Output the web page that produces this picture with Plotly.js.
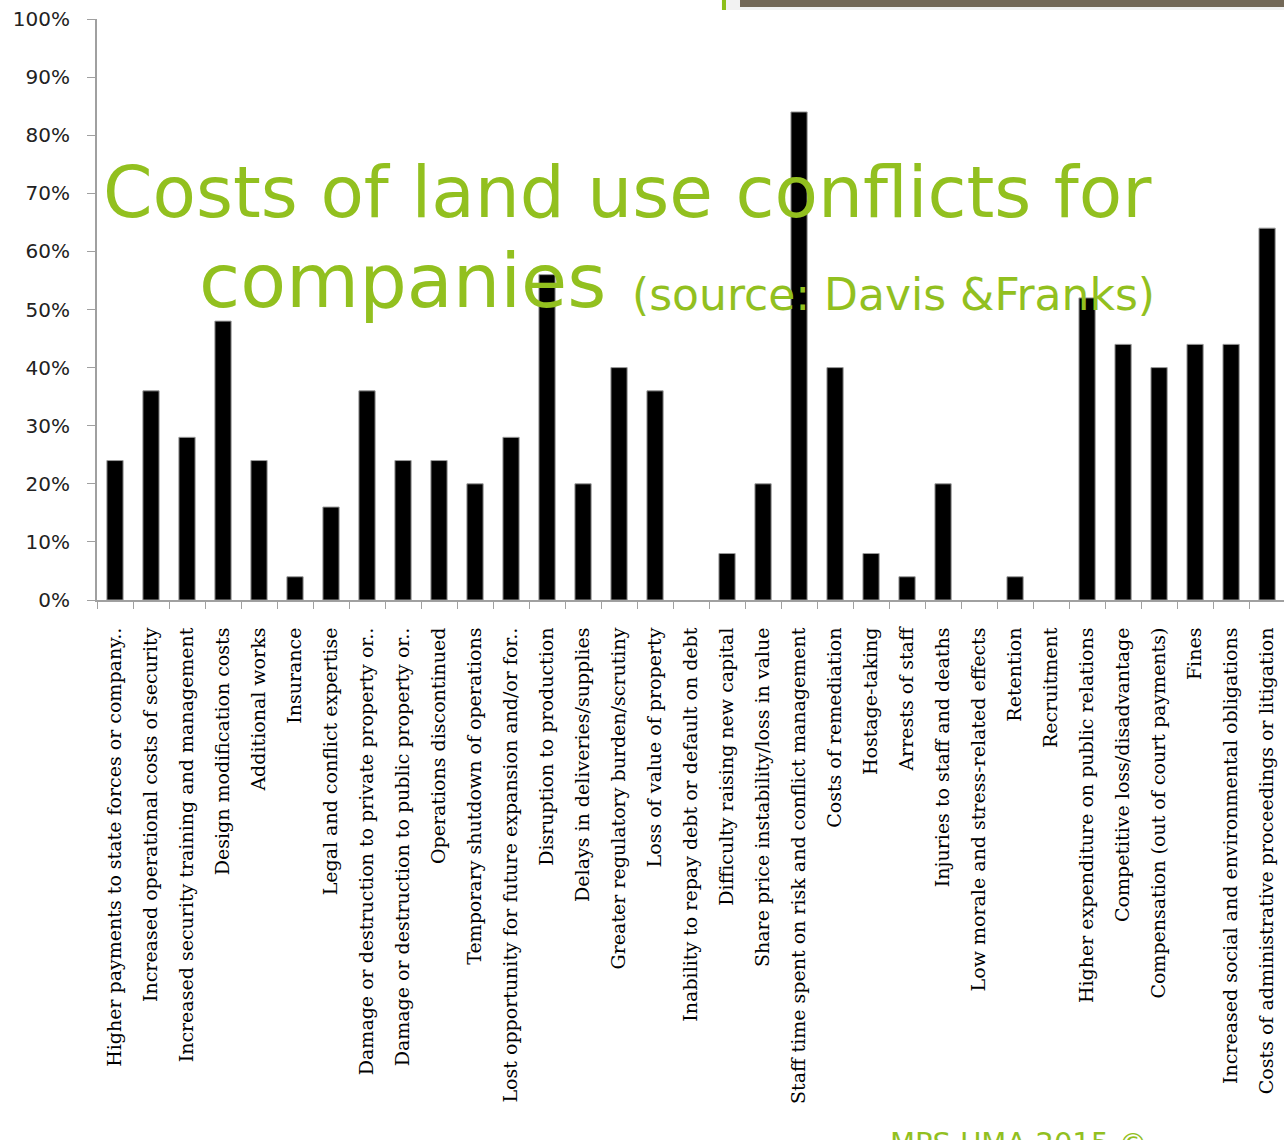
<!DOCTYPE html>
<html>
<head>
<meta charset="utf-8">
<script src="https://cdn.plot.ly/plotly-3.0.1.min.js"></script>
<style>html,body{margin:0;padding:0;background:#fff;}#chart{width:1284px;height:1140px;}</style>
</head>
<body>
<div id="chart"></div>
<script>
const categories = [
  "Higher payments to state forces or company..",
  "Increased operational costs of security",
  "Increased security training and management",
  "Design modification costs",
  "Additional works",
  "Insurance",
  "Legal and conflict expertise",
  "Damage or destruction to private property or..",
  "Damage or destruction to public property or..",
  "Operations discontinued",
  "Temporary shutdown of operations",
  "Lost opportunity for future expansion and/or for..",
  "Disruption to production",
  "Delays in deliveries/supplies",
  "Greater regulatory burden/scrutiny",
  "Loss of value of property",
  "Inability to repay debt or default on debt",
  "Difficulty raising new capital",
  "Share price instability/loss in value",
  "Staff time spent on risk and conflict management",
  "Costs of remediation",
  "Hostage-taking",
  "Arrests of staff",
  "Injuries to staff and deaths",
  "Low morale and stress-related effects",
  "Retention",
  "Recruitment",
  "Higher expenditure on public relations",
  "Competitive loss/disadvantage",
  "Compensation (out of court payments)",
  "Fines",
  "Increased social and environmental obligations",
  "Costs of administrative proceedings or litigation"
];
const shares = [
  0.24, 0.36, 0.28, 0.48, 0.24, 0.04, 0.16, 0.36, 0.24, 0.24, 0.20,
  0.28, 0.56, 0.20, 0.40, 0.36, 0.00, 0.08, 0.20, 0.84, 0.40, 0.08,
  0.04, 0.20, 0.00, 0.04, 0.00, 0.52, 0.44, 0.40, 0.44, 0.44, 0.64
];
const titleLine1 = "Costs of land use conflicts for";
const titleLine2 = "companies";
const titleSource = "(source: Davis &Franks)";
const footerText = "MPS UMA 2015 ©";

const green = "#92c01f";
const titleFont = "DejaVu Sans";

const trace = {
  type: "bar",
  x: categories,
  y: shares,
  marker: {
    color: "#000000",
    line: {color: "#9a9a9a", width: shares.map(v => v > 0 ? 1 : 0)}
  },
  hoverinfo: "x+y"
};

const layout = {
  width: 1284,
  height: 1140,
  margin: {l: 97, r: 0, t: 19, b: 540, pad: 0},
  paper_bgcolor: "#ffffff",
  plot_bgcolor: "#ffffff",
  showlegend: false,
  bargap: 0.55,
  xaxis: {
    type: "category",
    range: [-0.5, 32.47],
    tickangle: -90,
    ticks: "outside",
    tickson: "boundaries",
    ticklen: 7,
    tickcolor: "#a0a0a0",
    tickwidth: 1,
    showline: true,
    linecolor: "#a0a0a0",
    linewidth: 2,
    showgrid: false,
    zeroline: false,
    ticklabelstandoff: 18,
    tickfont: {family: "DejaVu Serif", size: 19, color: "#000000"}
  },
  yaxis: {
    range: [0, 1],
    dtick: 0.1,
    tickformat: ".0%",
    ticks: "outside",
    ticklen: 8,
    tickcolor: "#a0a0a0",
    showline: true,
    linecolor: "#a0a0a0",
    linewidth: 2,
    showgrid: false,
    zeroline: false,
    ticklabelstandoff: 13,
    tickfont: {family: "DejaVu Sans", size: 20, color: "#222222"}
  },
  shapes: [
    {type: "rect", xref: "paper", yref: "paper", x0: 0.5299, x1: 1.0, y0: 1.0155, y1: 1.0327,
     fillcolor: "#f2f2f2", line: {width: 0}},
    {type: "rect", xref: "paper", yref: "paper", x0: 0.5417, x1: 1.0, y0: 1.0207, y1: 1.0327,
     fillcolor: "#736857", line: {width: 0}},
    {type: "rect", xref: "paper", yref: "paper", x0: 0.5265, x1: 0.5299, y0: 1.0155, y1: 1.0327,
     fillcolor: "#8cbf1a", line: {width: 0}}
  ],
  annotations: [
    {text: titleLine1, xref: "paper", yref: "paper", x: 0.00337, y: 0.702,
     xanchor: "left", yanchor: "middle", showarrow: false,
     font: {family: titleFont, size: 71, color: green}},
    {text: titleLine2, xref: "paper", yref: "paper", x: 0.0843, y: 0.549,
     xanchor: "left", yanchor: "middle", showarrow: false,
     font: {family: titleFont, size: 75, color: green}},
    {text: titleSource, xref: "paper", yref: "paper", x: 0.4490, y: 0.526,
     xanchor: "left", yanchor: "middle", showarrow: false,
     font: {family: titleFont, size: 44, color: green}},
    {text: footerText, xref: "paper", yref: "paper", x: 0.6664, y: -0.9019,
     xanchor: "left", yanchor: "top", showarrow: false,
     font: {family: titleFont, size: 29, color: green}}
  ]
};

Plotly.newPlot("chart", [trace], layout, {displayModeBar: false, staticPlot: true});
</script>
</body>
</html>
